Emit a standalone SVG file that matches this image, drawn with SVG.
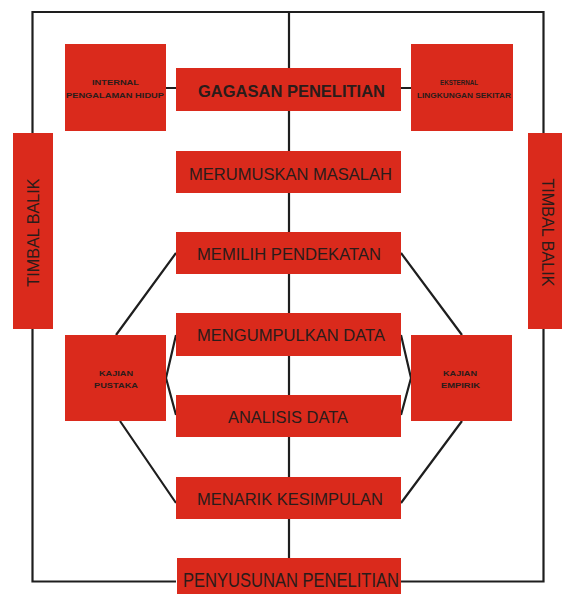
<svg xmlns="http://www.w3.org/2000/svg" width="562" height="594" viewBox="0 0 562 594">
<style>
.box{fill:#da2a1c}
.ln{fill:none;stroke:#1e1e1e;stroke-width:2.2;stroke-linejoin:miter}
.t{font-family:"Liberation Sans",Arial,sans-serif;fill:#2a1c1a;text-anchor:middle}
.s{font-family:"Liberation Sans",Arial,sans-serif;font-weight:bold;font-size:7.5px;fill:#2a1c1a;text-anchor:middle}
</style>
<rect width="562" height="594" fill="#ffffff"/>
<g id="connectors">
<path class="ln" d="M176,581.5 H32.5 V12 H543.5 V581.5 H401"/>
<path class="ln" d="M289,12 V558"/>
<path class="ln" d="M166,88 H176 M401,88 H411"/>
<path class="ln" d="M176,253 L116,335 M401,253 L462,335"/>
<path class="ln" d="M120,421 L176,503 M462,421 L401,503"/>
<path class="ln" d="M176,335 L166,378 L176,415 M401,335 L411,378 L401,415"/>
</g>
<g id="timbal-kiri">
<rect class="box" x="13" y="133" width="40" height="196"/>
<text class="t" font-size="16.2" transform="translate(39,232.5) rotate(-90)">TIMBAL BALIK</text>
</g>
<g id="timbal-kanan">
<rect class="box" x="528" y="133" width="34" height="196"/>
<text class="t" font-size="16.2" transform="translate(542,232.5) rotate(90)">TIMBAL BALIK</text>
</g>
<g id="internal">
<rect class="box" x="65" y="44" width="101" height="87"/>
<text class="s" x="115.5" y="85" textLength="47" lengthAdjust="spacingAndGlyphs">INTERNAL</text>
<text class="s" x="115" y="97.5" textLength="98" lengthAdjust="spacingAndGlyphs">PENGALAMAN HIDUP</text>
</g>
<g id="eksternal">
<rect class="box" x="411" y="44" width="102" height="87"/>
<text class="s" x="459" y="85" textLength="38" lengthAdjust="spacingAndGlyphs">EKSTERNAL</text>
<text class="s" x="464" y="97.5" textLength="94" lengthAdjust="spacingAndGlyphs">LINGKUNGAN SEKITAR</text>
</g>
<g id="gagasan">
<rect class="box" x="176" y="68" width="225" height="43"/>
<text class="t" x="291.5" y="97" font-size="16.5" font-weight="bold" textLength="187" lengthAdjust="spacingAndGlyphs">GAGASAN PENELITIAN</text>
</g>
<g id="merumuskan">
<rect class="box" x="176" y="151" width="225" height="42"/>
<text class="t" x="290.5" y="180" font-size="17" textLength="203" lengthAdjust="spacingAndGlyphs">MERUMUSKAN MASALAH</text>
</g>
<g id="memilih">
<rect class="box" x="176" y="232" width="225" height="42"/>
<text class="t" x="289" y="260" font-size="17" textLength="184" lengthAdjust="spacingAndGlyphs">MEMILIH PENDEKATAN</text>
</g>
<g id="mengumpulkan">
<rect class="box" x="176" y="313" width="225" height="43"/>
<text class="t" x="291" y="341" font-size="17" textLength="188" lengthAdjust="spacingAndGlyphs">MENGUMPULKAN DATA</text>
</g>
<g id="kajian-pustaka">
<rect class="box" x="65" y="335" width="101" height="86"/>
<text class="s" x="116" y="375.5" textLength="34" lengthAdjust="spacingAndGlyphs">KAJIAN</text>
<text class="s" x="116" y="388" textLength="44" lengthAdjust="spacingAndGlyphs">PUSTAKA</text>
</g>
<g id="kajian-empirik">
<rect class="box" x="411" y="335" width="101" height="86"/>
<text class="s" x="460" y="375.5" textLength="34" lengthAdjust="spacingAndGlyphs">KAJIAN</text>
<text class="s" x="460.5" y="388" textLength="39" lengthAdjust="spacingAndGlyphs">EMPIRIK</text>
</g>
<g id="analisis">
<rect class="box" x="176" y="395" width="225" height="42"/>
<text class="t" x="288" y="423" font-size="17" textLength="120" lengthAdjust="spacingAndGlyphs">ANALISIS DATA</text>
</g>
<g id="menarik">
<rect class="box" x="176" y="477" width="225" height="42"/>
<text class="t" x="290" y="505" font-size="17" textLength="186" lengthAdjust="spacingAndGlyphs">MENARIK KESIMPULAN</text>
</g>
<g id="penyusunan">
<rect class="box" x="177" y="558" width="224" height="36"/>
<text class="t" x="291" y="587" font-size="19.5" textLength="216" lengthAdjust="spacingAndGlyphs">PENYUSUNAN PENELITIAN</text>
</g>
</svg>
